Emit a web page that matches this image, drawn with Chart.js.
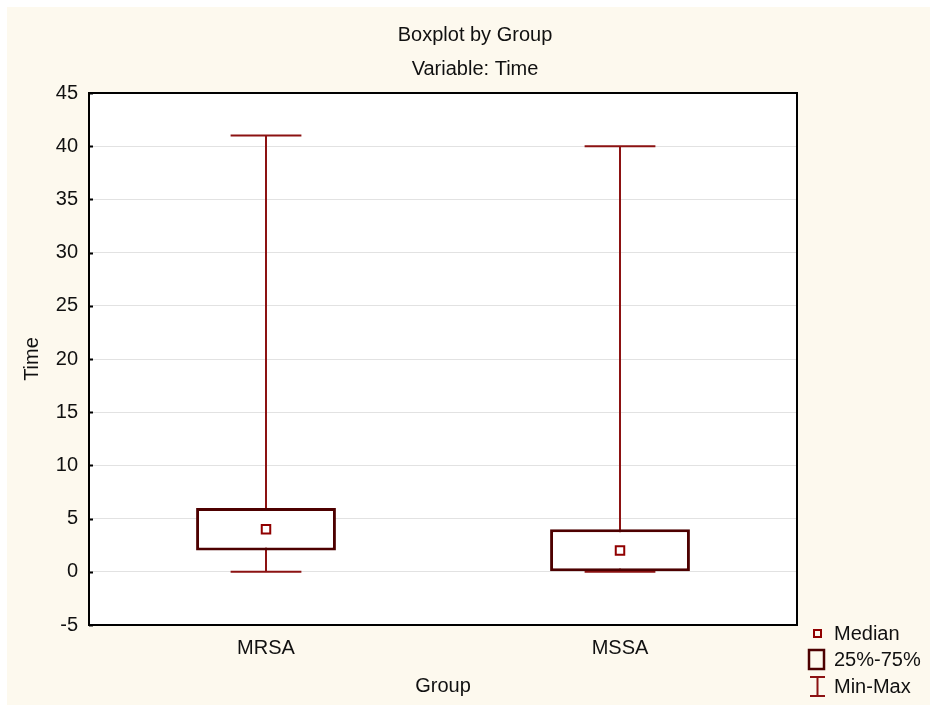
<!DOCTYPE html>
<html>
<head>
<meta charset="utf-8">
<script src="https://cdn.jsdelivr.net/npm/chart.js@4.4.1/dist/chart.umd.min.js"></script>
<style>
  html, body { margin: 0; padding: 0; background: #fff; }
  #wrap { width: 930px; height: 705px; }
</style>
</head>
<body>
<div id="wrap"><canvas id="boxChart" width="930" height="705"></canvas></div>
<script>
// data
const groups = ['MRSA', 'MSSA'];
const minVals = [0, 0];
const q1Vals = [2, 0];
const medianVals = [4, 2];
const q3Vals = [6, 4];
const maxVals = [41, 40];
const yTicks = [-5, 0, 5, 10, 15, 20, 25, 30, 35, 40, 45];

const FONT = "'Liberation Sans', Arial, sans-serif";
const FS = 20;
const BOX_COLOR = '#4d0000';
const WHISKER_COLOR = '#8c1212';
const MEDIAN_COLOR = '#900000';
const CREAM = '#fdf9ee';

// background, plot frame, inner ticks
const framePlugin = {
    id: 'frame',
    beforeDraw(chart) {
        const { ctx, chartArea: a } = chart;
        ctx.save();
        ctx.fillStyle = '#fff';
        ctx.fillRect(0, 0, chart.width, chart.height);
        ctx.fillStyle = CREAM;
        ctx.fillRect(7, 7, chart.width - 7, chart.height - 7);
        ctx.fillStyle = '#fff';
        ctx.fillRect(a.left, a.top, a.right - a.left, a.bottom - a.top);
        ctx.restore();
    },
    afterDraw(chart) {
        const { ctx, chartArea: a } = chart;
        const y = chart.scales.y;
        ctx.save();
        ctx.strokeStyle = '#000';
        ctx.lineWidth = 2;
        ctx.strokeRect(a.left, a.top, a.right - a.left, a.bottom - a.top);
        ctx.beginPath();
        yTicks.forEach(v => {
            const py = Math.round(y.getPixelForValue(v)) + 0.5;
            ctx.moveTo(a.left, py);
            ctx.lineTo(a.left + 4, py);
        });
        ctx.stroke();
        ctx.restore();
    }
};

// min-max whiskers, drawn under the boxes
const whiskerPlugin = {
    id: 'whiskers',
    beforeDatasetsDraw(chart) {
        const { ctx } = chart;
        const x = chart.scales.x, y = chart.scales.y;
        const capHalf = (x.getPixelForValue(1) - x.getPixelForValue(0)) * 0.1;
        ctx.save();
        ctx.strokeStyle = WHISKER_COLOR;
        ctx.lineWidth = 2;
        groups.forEach((g, i) => {
            const px = Math.round(x.getPixelForValue(i));
            const yMin = y.getPixelForValue(minVals[i]);
            const yMax = y.getPixelForValue(maxVals[i]);
            ctx.beginPath();
            ctx.moveTo(px, yMax);
            ctx.lineTo(px, yMin);
            ctx.moveTo(px - capHalf, yMax);
            ctx.lineTo(px + capHalf, yMax);
            ctx.moveTo(px - capHalf, yMin);
            ctx.lineTo(px + capHalf, yMin);
            ctx.stroke();
        });
        ctx.restore();
    }
};

// legend in the bottom right corner
const legendPlugin = {
    id: 'boxLegend',
    afterDraw(chart) {
        const { ctx } = chart;
        ctx.save();
        ctx.font = FS + 'px ' + FONT;
        ctx.fillStyle = '#111';
        ctx.textBaseline = 'middle';
        ctx.fillText('Median', 834, 634);
        ctx.fillText('25%-75%', 834, 660);
        ctx.fillText('Min-Max', 834, 687);

        ctx.strokeStyle = MEDIAN_COLOR;
        ctx.lineWidth = 2;
        ctx.strokeRect(814, 630, 7, 7);

        ctx.strokeStyle = BOX_COLOR;
        ctx.lineWidth = 2.5;
        ctx.strokeRect(809, 650, 15, 19);

        ctx.strokeStyle = WHISKER_COLOR;
        ctx.lineWidth = 2;
        ctx.beginPath();
        ctx.moveTo(810, 677); ctx.lineTo(825, 677);
        ctx.moveTo(817.5, 677); ctx.lineTo(817.5, 696);
        ctx.moveTo(810, 696); ctx.lineTo(825, 696);
        ctx.stroke();
        ctx.restore();
    }
};

const ctx = document.getElementById('boxChart').getContext('2d');
new Chart(ctx, {
    data: {
        labels: groups,
        datasets: [
            {
                type: 'bar',
                label: '25%-75%',
                data: groups.map((g, i) => [q1Vals[i], q3Vals[i]]),
                backgroundColor: '#fff',
                borderColor: BOX_COLOR,
                borderWidth: 3,
                borderSkipped: false,
                categoryPercentage: 1,
                barPercentage: 0.395,
                order: 2
            },
            {
                type: 'line',
                label: 'Median',
                data: medianVals,
                showLine: false,
                pointStyle: 'rect',
                pointRadius: 6,
                pointBorderWidth: 2,
                pointBorderColor: MEDIAN_COLOR,
                pointBackgroundColor: '#fff',
                order: 1
            }
        ]
    },
    options: {
        responsive: false,
        animation: false,
        layout: { padding: { left: 20, right: 0, top: 0, bottom: 0 } },
        plugins: {
            legend: { display: false },
            tooltip: { enabled: false },
            title: {
                display: true,
                text: 'Boxplot by Group',
                color: '#111',
                font: { family: FONT, size: FS, weight: 'normal' },
                padding: { top: 23, bottom: 4 }
            },
            subtitle: {
                display: true,
                text: 'Variable: Time',
                color: '#111',
                font: { family: FONT, size: FS, weight: 'normal' },
                padding: { top: 6, bottom: 12 }
            }
        },
        scales: {
            x: {
                type: 'category',
                offset: true,
                grid: { display: false, drawTicks: false },
                border: { display: false },
                ticks: { color: '#111', padding: 11, font: { family: FONT, size: FS } },
                title: {
                    display: true,
                    text: 'Group',
                    color: '#111',
                    font: { family: FONT, size: FS },
                    padding: { top: 0, bottom: 7 }
                },
                afterFit(scale) { scale.height = 80; }
            },
            y: {
                type: 'linear',
                min: -5,
                max: 45,
                grid: { color: '#e2e2e2', lineWidth: 1, drawTicks: false },
                border: { display: false },
                ticks: {
                    stepSize: 5,
                    color: '#111',
                    padding: 11,
                    font: { family: FONT, size: FS }
                },
                title: {
                    display: true,
                    text: 'Time',
                    color: '#111',
                    font: { family: FONT, size: FS },
                    padding: { top: 0, bottom: 0 }
                },
                afterFit(scale) { scale.width = 69; }
            },
            y2: {
                type: 'linear',
                position: 'right',
                display: true,
                grid: { display: false, drawTicks: false },
                border: { display: false },
                ticks: { display: false },
                afterFit(scale) { scale.width = 133; }
            }
        }
    },
    plugins: [framePlugin, whiskerPlugin, legendPlugin]
});
</script>
</body>
</html>
